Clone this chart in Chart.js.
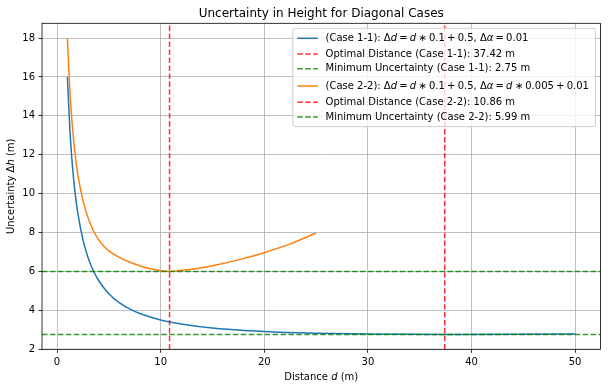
<!DOCTYPE html>
<html>
<head>
<meta charset="utf-8">
<script src="https://cdn.jsdelivr.net/npm/chart.js@4.4.0/dist/chart.umd.min.js"></script>
<style>
    html, body { margin: 0; padding: 0; background: #fff; }
</style>
</head>
<body>
<canvas id="incerteza" width="610" height="390"></canvas>
<script>
// valores
let distanciasCaso11 = [1, 1.25, 1.5, 1.75, 2, 2.5, 3, 3.5, 4, 5, 6, 7, 8, 10, 12, 15, 20, 25, 30, 37.42, 45, 50];
let incertezaCaso11 = [16.0, 13.2, 11.35, 10.0, 9.02, 7.63, 6.7, 6.04, 5.54, 4.85, 4.39, 4.07, 3.83, 3.5, 3.29, 3.08, 2.9, 2.81, 2.77, 2.75, 2.76, 2.78];

let distanciasCaso22 = [1, 1.25, 1.5, 1.75, 2, 2.5, 3, 3.5, 4, 4.5, 5, 6, 7, 8, 9, 10, 10.86, 12, 13, 15, 17.5, 20, 22.5, 25];
let incertezaCaso22 = [18.0, 15.2, 13.35, 12.0, 11.0, 9.65, 8.75, 8.1, 7.64, 7.3, 7.05, 6.72, 6.48, 6.29, 6.13, 6.03, 5.99, 6.05, 6.11, 6.29, 6.59, 6.96, 7.41, 7.97];

let distOtima11 = 37.42;
let incMinima11 = 2.75;
let distOtima22 = 10.86;
let incMinima22 = 5.99;

let ticksX = [0, 10, 20, 30, 40, 50];
let ticksY = [2, 4, 6, 8, 10, 12, 14, 16, 18];

let xMin = -1.45, xMax = 52.45;
let yMin = 1.9875, yMax = 18.7625;

let tituloGrafico = 'Uncertainty in Height for Diagonal Cases';
let rotuloX = 'Distance $d$ (m)';
let rotuloY = 'Uncertainty $Δh$ (m)';

let rotulosLegenda = [
    '(Case 1-1): $Δd = d * 0.1 + 0.5$, $Δα = 0.01$',
    `Optimal Distance (Case 1-1): ${distOtima11.toFixed(2)} m`,
    `Minimum Uncertainty (Case 1-1): ${incMinima11.toFixed(2)} m`,
    '(Case 2-2): $Δd = d * 0.1 + 0.5$, $Δα = d * 0.005 + 0.01$',
    `Optimal Distance (Case 2-2): ${distOtima22.toFixed(2)} m`,
    `Minimum Uncertainty (Case 2-2): ${incMinima22.toFixed(2)} m`
];

const azul = '#1f77b4';
const laranja = '#ff7f0e';
const vermelho = 'rgba(255, 0, 0, 0.8)';
const verde = 'rgba(0, 128, 0, 0.8)';
const tracejado = [5.55, 2.4];
const FONTE = '"DejaVu Sans"';

function pares(xs, ys) {
    return xs.map((x, i) => ({ x: x, y: ys[i] }));
}

// texto com trechos $...$ no estilo mathtext (letras em itálico)
function partesTexto(texto, tamanho) {
    let partes = [];
    texto.split('$').forEach((bloco, i) => {
        if (i % 2 === 0) {
            if (bloco) partes.push({ t: bloco, it: false, pad: 0 });
            return;
        }
        for (const c of bloco.replace(/ /g, '')) {
            if ('=+*'.includes(c)) {
                partes.push({ t: c === '*' ? '\u2217' : c, it: false, pad: tamanho * 0.22 });
            } else if (/[a-zA-Zα]/.test(c)) {
                partes.push({ t: c, it: true, pad: 0 });
            } else {
                partes.push({ t: c, it: false, pad: 0 });
            }
        }
    });
    return partes;
}

function fonte(italico, tamanho) {
    return (italico ? 'italic ' : '') + tamanho + 'px ' + FONTE;
}

function larguraRica(ctx, texto, tamanho) {
    let total = 0;
    partesTexto(texto, tamanho).forEach(p => {
        ctx.font = fonte(p.it, tamanho);
        total += ctx.measureText(p.t).width + 2 * p.pad;
    });
    return total;
}

function desenharRico(ctx, texto, x, y, tamanho, alinhamento) {
    let largura = larguraRica(ctx, texto, tamanho);
    let cx = alinhamento === 'center' ? x - largura / 2 : x;
    ctx.textAlign = 'left';
    ctx.textBaseline = 'middle';
    partesTexto(texto, tamanho).forEach(p => {
        ctx.font = fonte(p.it, tamanho);
        cx += p.pad;
        ctx.fillText(p.t, cx, y);
        cx += ctx.measureText(p.t).width + p.pad;
    });
}

const pluginMoldura = {
    id: 'moldura',
    afterDraw(chart) {
        const ctx = chart.ctx;
        const area = chart.chartArea;
        const centroX = (area.left + area.right) / 2;
        ctx.save();
        ctx.fillStyle = '#000';

        desenharRico(ctx, tituloGrafico, centroX, 13.5, 12, 'center');
        desenharRico(ctx, rotuloX, centroX, 377, 10, 'center');

        ctx.save();
        ctx.translate(11, (area.top + area.bottom) / 2);
        ctx.rotate(-Math.PI / 2);
        desenharRico(ctx, rotuloY, 0, 0, 10, 'center');
        ctx.restore();

        ctx.strokeStyle = '#000';
        ctx.lineWidth = 0.8;
        ctx.strokeRect(area.left, area.top, area.right - area.left, area.bottom - area.top);

        // legenda dentro da área, canto superior direito
        let datasets = chart.data.datasets;
        let larguraMax = Math.max(...datasets.map(ds => larguraRica(ctx, ds.label, 10)));
        let direita = area.right - 5;
        let esquerda = direita - (larguraMax + 39.3);
        let topo = area.top + 5;
        let altura = 98.4;
        let r = 2.5;

        ctx.beginPath();
        ctx.moveTo(esquerda + r, topo);
        ctx.lineTo(direita - r, topo);
        ctx.arcTo(direita, topo, direita, topo + r, r);
        ctx.lineTo(direita, topo + altura - r);
        ctx.arcTo(direita, topo + altura, direita - r, topo + altura, r);
        ctx.lineTo(esquerda + r, topo + altura);
        ctx.arcTo(esquerda, topo + altura, esquerda, topo + altura - r, r);
        ctx.lineTo(esquerda, topo + r);
        ctx.arcTo(esquerda, topo, esquerda + r, topo, r);
        ctx.closePath();
        ctx.fillStyle = 'rgba(255, 255, 255, 0.8)';
        ctx.fill();
        ctx.strokeStyle = '#cccccc';
        ctx.lineWidth = 1;
        ctx.stroke();

        let linhas = [10, 25.7, 40.4, 57.7, 74, 88.7];
        datasets.forEach((ds, i) => {
            let y = topo + linhas[i];
            ctx.beginPath();
            ctx.setLineDash(ds.borderDash || []);
            ctx.strokeStyle = ds.borderColor;
            ctx.lineWidth = 1.5;
            ctx.moveTo(esquerda + 4.5, y);
            ctx.lineTo(esquerda + 25, y);
            ctx.stroke();
            ctx.setLineDash([]);
            ctx.fillStyle = '#000';
            desenharRico(ctx, ds.label, esquerda + 32.7, y, 10, 'left');
        });
        ctx.restore();
    }
};

Chart.defaults.font.family = FONTE;
Chart.defaults.font.size = 10;

const ctx = document.getElementById('incerteza').getContext('2d');
new Chart(ctx, {
    type: 'line',
    data: {
        datasets: [
            {
                label: rotulosLegenda[0],
                data: pares(distanciasCaso11, incertezaCaso11),
                borderColor: azul,
                order: 5
            },
            {
                label: rotulosLegenda[1],
                data: [{ x: distOtima11, y: yMin }, { x: distOtima11, y: yMax }],
                borderColor: vermelho,
                borderDash: tracejado,
                order: 4
            },
            {
                label: rotulosLegenda[2],
                data: [{ x: xMin, y: incMinima11 }, { x: xMax, y: incMinima11 }],
                borderColor: verde,
                borderDash: tracejado,
                order: 3
            },
            {
                label: rotulosLegenda[3],
                data: pares(distanciasCaso22, incertezaCaso22),
                borderColor: laranja,
                order: 2
            },
            {
                label: rotulosLegenda[4],
                data: [{ x: distOtima22, y: yMin }, { x: distOtima22, y: yMax }],
                borderColor: vermelho,
                borderDash: tracejado,
                order: 1
            },
            {
                label: rotulosLegenda[5],
                data: [{ x: xMin, y: incMinima22 }, { x: xMax, y: incMinima22 }],
                borderColor: verde,
                borderDash: tracejado,
                order: 0
            }
        ]
    },
    options: {
        responsive: false,
        animation: false,
        devicePixelRatio: 1,
        layout: { padding: { top: 23.3, right: 9.5, left: 0, bottom: 0 } },
        elements: {
            line: { borderWidth: 1.5, fill: false, cubicInterpolationMode: 'monotone' },
            point: { radius: 0, hoverRadius: 0 }
        },
        plugins: {
            legend: { display: false },
            tooltip: { enabled: false },
            title: { display: false }
        },
        scales: {
            x: {
                type: 'linear',
                min: xMin,
                max: xMax,
                bounds: 'data',
                afterBuildTicks: scale => { scale.ticks = ticksX.map(v => ({ value: v })); },
                afterFit: scale => { scale.height = 40.7; },
                grid: { color: '#b0b0b0', lineWidth: 0.8, tickColor: '#000', tickWidth: 0.8, tickLength: 3.5 },
                border: { display: false },
                ticks: { color: '#000', padding: 3.5, maxRotation: 0, autoSkip: false }
            },
            y: {
                type: 'linear',
                min: yMin,
                max: yMax,
                bounds: 'data',
                afterBuildTicks: scale => { scale.ticks = ticksY.map(v => ({ value: v })); },
                afterFit: scale => { scale.width = 42; },
                grid: { color: '#b0b0b0', lineWidth: 0.8, tickColor: '#000', tickWidth: 0.8, tickLength: 3.5 },
                border: { display: false },
                ticks: { color: '#000', padding: 3.5, autoSkip: false }
            }
        }
    },
    plugins: [pluginMoldura]
});
</script>
</body>
</html>
